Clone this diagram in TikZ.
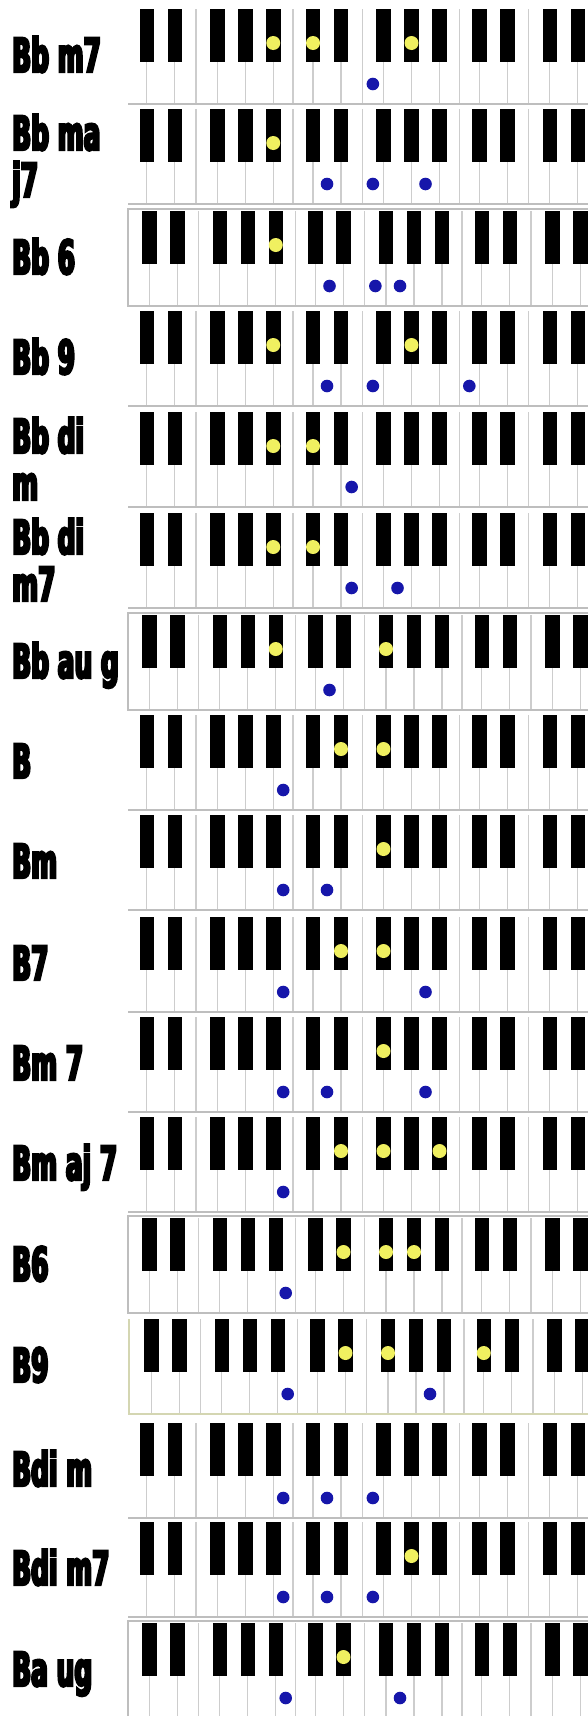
\documentclass[tikz,border=0pt]{standalone}
\usepackage{fontspec}
\newfontfamily\chordfont[FakeStretch=0.53, FakeBold=5]{DejaVu Sans Bold}
\definecolor{keygray}{RGB}{205,205,205}
\definecolor{rowgray}{RGB}{190,190,190}
\definecolor{olivegray}{RGB}{212,214,178}
\definecolor{hiyellow}{RGB}{240,240,96}
\definecolor{lowblue}{RGB}{22,22,170}

\begin{document}
\begin{tikzpicture}[
    x=1pt, y=-1pt,
    chord/.style   ={font=\chordfont\fontsize{47}{47}\selectfont,
                     anchor=base west, align=left, inner sep=0pt},
    keyline/.style ={draw=keygray, line width=1.3pt},
    rowline/.style ={draw=rowgray, line width=1.8pt},
    blackkey/.style={fill=black},
    hidot/.style   ={fill=hiyellow},
    lowdot/.style  ={fill=lowblue}
  ]

  % ---- page --------------------------------------------------------------
  \fill[white] (0,0) rectangle (588,1716);
  \clip (0,0) rectangle (588,1716);

  % ---- rows: number / top / key shift / label baseline / label / notes ----
  % notes in semitones from the C left of the first black key
  \foreach \r/\top/\dx/\by/\lab/\notes in {
      1/9/0/63/{Bb m7}/{10,13,17,20},
      2/109/0/88/{Bb ma\\j7}/{10,14,17,21},
      3/211/2.5/63/{Bb 6}/{10,14,17,19},
      4/311/0/63/{Bb 9}/{10,14,17,20,24},
      5/412/0/88/{Bb di\\m}/{10,13,16},
      6/513/0/88/{Bb di\\m7}/{10,13,16,19},
      7/615/2.5/63/{Bb au g}/{10,14,18},
      8/715/0/63/{B}/{11,15,18},
      9/815/0/63/{Bm}/{11,14,18},
      10/917/0/63/{B7}/{11,15,18,21},
      11/1017/0/63/{Bm 7}/{11,14,18,21},
      12/1117/0/63/{Bm aj 7}/{11,15,18,22},
      13/1218/2.5/63/{B6}/{11,15,18,20},
      14/1319/4.5/63/{B9}/{11,15,18,21,25},
      15/1423/0/63/{Bdi m}/{11,14,17},
      16/1522/0/63/{Bdi m7}/{11,14,17,20},
      17/1623/2.5/63/{Ba ug}/{11,15,19}} {

    \pgfmathsetmacro\xo{139.5+\dx}

    % white key borders in the gaps (E|F and B|C)
    \foreach \o in {0,1,2} {
      \draw[keyline] (\xo+56.5+166.25*\o, \top) -- ++(0,95);
      \draw[keyline] (\xo+153.6+166.25*\o, \top) -- ++(0,95);
    }

    % white key borders under the black keys, then the black keys
    \foreach \o in {0,1,2}
      \foreach \k in {0,28,70.5,98.5,126.5} {
        \draw[keyline] (\xo+\k+7.25+166.25*\o, \top+40) -- ++(0,55);
        \fill[blackkey] (\xo+\k+166.25*\o, \top) rectangle ++(14.5,52.5);
      }

    \draw[rowline] (128, \top+95) -- (590, \top+95);

    % ---- chord tones ----
    \foreach \n in \notes {
      \pgfmathsetmacro\kx{\xo+166.25*floor(\n/12)
        +{-2.7,7.25,21.25,35.25,45.9,67.1,77.75,91.75,105.75,119.75,133.75,143.7}[mod(\n,12)]}
      \pgfmathtruncatemacro\isblack{{0,1,0,1,0,0,1,0,1,0,1,0}[mod(\n,12)]}
      \ifnum\isblack=1
        \fill[hidot] (\kx, \top+34) circle (7pt);
      \else
        \fill[lowdot] (\kx, \top+75) circle (6.3pt);
      \fi
    }

    \node[chord] (lab\r) at (12, \top+\by) {\lab};
  }

  % ---- framed rows ---------------------------------------------------------
  \foreach \top in {211, 615, 1218, 1623}
    \draw[rowline] (128, \top-2) rectangle (592, \top+95);

  % ---- B9 row has a pale olive edge ----------------------------------------
  \draw[olivegray, line width=1.8pt] (129, 1319) -- (129, 1414) -- (590, 1414);

\end{tikzpicture}
\end{document}
